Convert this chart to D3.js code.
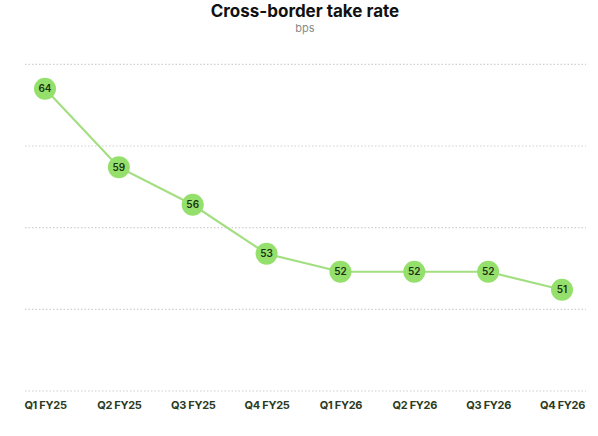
<!DOCTYPE html>
<html>
<head>
<meta charset="utf-8">
<script src="https://cdn.jsdelivr.net/npm/d3@7"></script>
<style>
  body { margin: 0; background: #fff; }
  svg { font-family: Inter, "Noto Sans", sans-serif; }
</style>
</head>
<body>
<div id="chart-area"></div>
<script>
// quarters and take rate (bps), labels shown rounded
var quarters = ["Q1 FY25", "Q2 FY25", "Q3 FY25", "Q4 FY25", "Q1 FY26", "Q2 FY26", "Q3 FY26", "Q4 FY26"];
var takeRate = [63.5, 58.7, 56.4, 53.4, 52.3, 52.3, 52.3, 51.2];
var yTicks = [45, 50, 55, 60, 65];

var width = 598, height = 436;
var gridLeft = 25, gridRight = 586;

var svg = d3.select("#chart-area")
    .append("svg")
    .attr("width", width)
    .attr("height", height);

var x = d3.scalePoint()
    .domain(quarters)
    .range([45, 562]);

var y = d3.scaleLinear()
    .domain([45, 65])
    .range([391, 64.3]);

// title
svg.append("text")
    .attr("x", 305)
    .attr("y", 17)
    .attr("text-anchor", "middle")
    .attr("font-size", "17px")
    .attr("font-weight", 700)
    .attr("fill", "#111")
    .text("Cross-border take rate");

svg.append("text")
    .attr("x", 305)
    .attr("y", 32)
    .attr("text-anchor", "middle")
    .attr("font-size", "11px")
    .attr("fill", "#8a8a8a")
    .text("bps");

// dotted gridlines
svg.append("g")
    .selectAll("line")
    .data(yTicks)
    .enter()
    .append("line")
    .attr("x1", gridLeft)
    .attr("x2", gridRight)
    .attr("y1", function(d) { return y(d); })
    .attr("y2", function(d) { return y(d); })
    .attr("stroke", "#d0d0d0")
    .attr("stroke-width", 1.2)
    .attr("stroke-dasharray", "1.5,2");

// x axis labels
var xAxisCall = d3.axisBottom(x).tickSize(0).tickPadding(0);
var xAxis = svg.append("g")
    .attr("transform", "translate(0,401)")
    .call(xAxisCall);
xAxis.select(".domain").remove();
xAxis.selectAll("text")
    .attr("font-family", "Inter, sans-serif")
    .attr("font-size", "11px")
    .attr("font-weight", 700)
    .attr("fill", "#2b3a22")
    .attr("letter-spacing", "-0.3px");

// line
var line = d3.line()
    .x(function(d, i) { return x(quarters[i]); })
    .y(function(d) { return y(d); });

svg.append("path")
    .datum(takeRate)
    .attr("d", line)
    .attr("fill", "none")
    .attr("stroke", "#a3de80")
    .attr("stroke-width", 2.2);

// points + labels
var pts = svg.selectAll(".pt")
    .data(takeRate)
    .enter()
    .append("g")
    .attr("class", "pt")
    .attr("transform", function(d, i) {
        return "translate(" + x(quarters[i]) + "," + y(d) + ")";
    });

pts.append("circle")
    .attr("r", 11)
    .attr("fill", "#95e06c");

pts.append("text")
    .attr("text-anchor", "middle")
    .attr("dy", "0.35em")
    .attr("font-size", "10px")
    .attr("font-weight", 600)
    .attr("fill", "#1c3310")
    .text(function(d) { return d3.format(".0f")(d); });
</script>
</body>
</html>
